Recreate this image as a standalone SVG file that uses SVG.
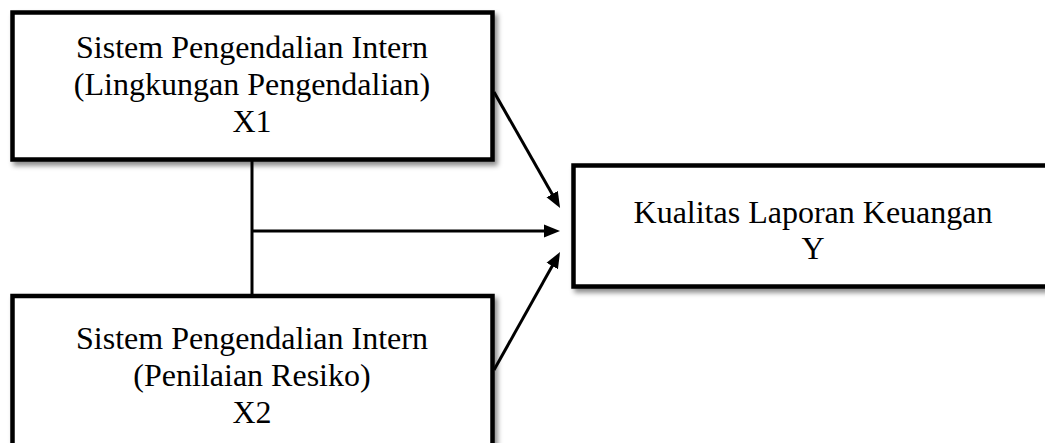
<svg xmlns="http://www.w3.org/2000/svg" width="1045" height="443" viewBox="0 0 1045 443">
<style>
.box{fill:#fff;stroke:#000;stroke-width:4.5;filter:url(#sh)}
.t{font-family:"Liberation Serif","Times New Roman",serif;font-size:32px;fill:#000;text-anchor:middle}
.c{stroke:#000;stroke-width:3;fill:none}
</style>
<defs>
<filter id="sh" x="-5%" y="-5%" width="115%" height="120%">
<feDropShadow dx="3" dy="4" stdDeviation="2.5" flood-color="#000" flood-opacity="0.45"/>
</filter>
<marker id="ah" markerUnits="userSpaceOnUse" markerWidth="18" markerHeight="14" refX="10" refY="7" orient="auto">
<path d="M0,0.5 L16,7 L0,13.5 z" fill="#000"/>
</marker>
</defs>
<rect width="1045" height="443" fill="#fff"/>
<g id="connectors">
<line class="c" x1="252" y1="160" x2="252" y2="296"/>
<line class="c" x1="252" y1="231" x2="554" y2="231" marker-end="url(#ah)"/>
<line class="c" x1="494" y1="92" x2="557.1" y2="202.8" marker-end="url(#ah)"/>
<line class="c" x1="494" y1="370" x2="557.1" y2="257.3" marker-end="url(#ah)"/>
</g>
<g id="x1">
<rect class="box" x="12.5" y="12.5" width="480" height="147"/>
<text class="t" x="252" y="58">Sistem Pengendalian Intern</text>
<text class="t" x="252" y="95">(Lingkungan Pengendalian)</text>
<text class="t" x="252" y="132">X1</text>
</g>
<g id="x2">
<rect class="box" x="12.5" y="296" width="480" height="170"/>
<text class="t" x="252" y="349">Sistem Pengendalian Intern</text>
<text class="t" x="252" y="386">(Penilaian Resiko)</text>
<text class="t" x="252" y="423">X2</text>
</g>
<g id="y">
<rect class="box" x="573.5" y="165.5" width="500" height="121"/>
<text class="t" x="813" y="223">Kualitas Laporan Keuangan</text>
<text class="t" x="813" y="259">Y</text>
</g>
</svg>
